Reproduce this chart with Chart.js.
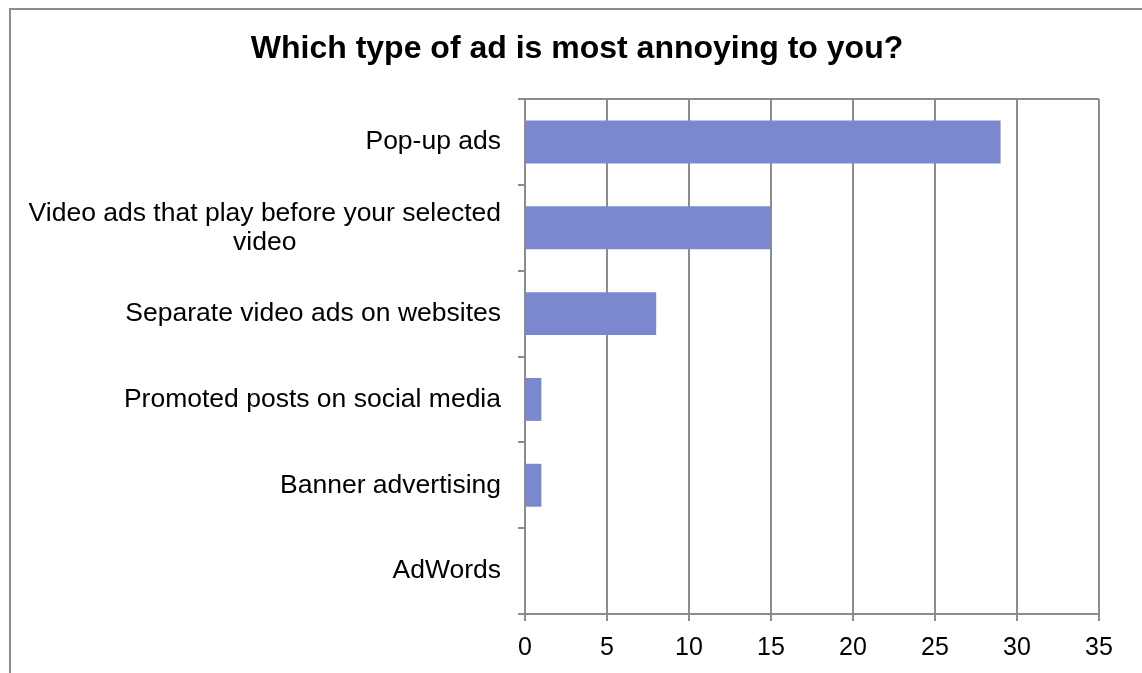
<!DOCTYPE html>
<html>
<head>
<meta charset="utf-8">
<script src="https://cdn.jsdelivr.net/npm/chart.js"></script>
<style>
    html, body { margin: 0; padding: 0; background: #fff; overflow: hidden; }
    #frame {
        position: absolute; left: 9px; top: 8px;
        width: 1300px; height: 800px;
        border: 2px solid #8c8c8c;
    }
    #wrap { position: absolute; left: 0; top: 0; width: 1142px; height: 673px; }
</style>
</head>
<body>
<div id="frame"></div>
<div id="wrap"><canvas id="chart" width="1142" height="673"></canvas></div>
<script>
const chartTitle = 'Which type of ad is most annoying to you?';
const categories = [
    ['Pop-up ads'],
    ['Video ads that play before your selected', 'video'],
    ['Separate video ads on websites'],
    ['Promoted posts on social media'],
    ['Banner advertising'],
    ['AdWords']
];
const responses = [29, 15, 8, 1, 1, 0];
const xTicks = [0, 5, 10, 15, 20, 25, 30, 35];

const GRID = '#8c8c8c';
const FONT = "'Liberation Sans', Arial, sans-serif";

// category labels: block right-aligned against the axis, lines centred inside the block
const categoryLabels = {
    id: 'categoryLabels',
    afterDraw(chart) {
        const scale = chart.scales.y;
        const ctx = chart.ctx;
        ctx.save();
        ctx.font = '26.5px ' + FONT;
        ctx.fillStyle = '#000';
        ctx.textAlign = 'center';
        ctx.textBaseline = 'middle';
        const right = scale.right - 24;
        const lineH = 29;
        categories.forEach((lines, i) => {
            const w = Math.max(...lines.map(l => ctx.measureText(l).width));
            const cx = right - w / 2;
            const cy = scale.getPixelForValue(i);
            lines.forEach((l, j) => {
                ctx.fillText(l, cx, cy + (j - (lines.length - 1) / 2) * lineH);
            });
        });
        ctx.restore();
    }
};

new Chart(document.getElementById('chart'), {
    type: 'bar',
    data: {
        labels: categories,
        datasets: [{
            data: responses,
            backgroundColor: '#7a89cf',
            borderWidth: 0,
            barPercentage: 0.5,
            categoryPercentage: 1
        }]
    },
    options: {
        indexAxis: 'y',
        responsive: false,
        animation: false,
        layout: { padding: { left: 55, right: 43, top: 0, bottom: 0 } },
        plugins: {
            legend: { display: false },
            tooltip: { enabled: false },
            title: {
                display: true,
                text: chartTitle,
                color: '#000',
                font: { family: FONT, size: 32, weight: 'bold', lineHeight: 1.2 },
                padding: { top: 30, bottom: 30.6 }
            }
        },
        scales: {
            x: {
                min: 0,
                max: 35,
                afterBuildTicks(scale) {
                    scale.ticks = xTicks.map(v => ({ value: v }));
                },
                afterFit(scale) { scale.height = 59; },
                ticks: {
                    color: '#000',
                    font: { family: FONT, size: 25 },
                    padding: 12
                },
                grid: { color: GRID, lineWidth: 2, tickLength: 7 },
                border: { color: GRID, width: 2 }
            },
            y: {
                afterFit(scale) { scale.width = 470; },
                ticks: { display: false },
                grid: {
                    offset: true,
                    drawOnChartArea: true,
                    color: ctx => ctx.index === 0 ? GRID : 'rgba(0,0,0,0)',
                    tickColor: GRID,
                    lineWidth: 2,
                    tickLength: 7
                },
                border: { color: GRID, width: 2 }
            }
        }
    },
    plugins: [categoryLabels]
});
</script>
</body>
</html>
